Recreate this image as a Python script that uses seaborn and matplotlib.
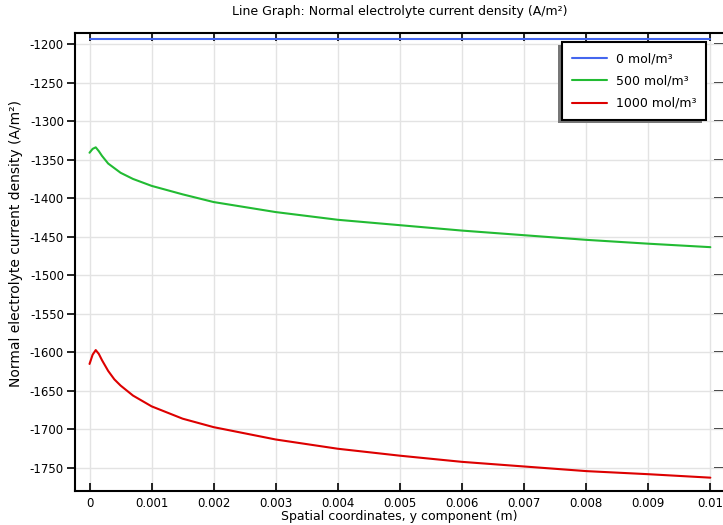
import matplotlib
matplotlib.use("Agg")
import matplotlib.pyplot as plt
import seaborn as sns
import pandas as pd
from matplotlib.patches import Rectangle

# ---- data ----
y_coord = [0, 0.00005, 0.0001, 0.00015, 0.0002, 0.0003, 0.0004, 0.0005, 0.0007,
           0.001, 0.0015, 0.002, 0.003, 0.004, 0.005, 0.006, 0.007, 0.008, 0.009, 0.01]
current_0 = [-1193] * 20
current_500 = [-1341, -1336, -1334, -1339, -1345, -1355, -1361, -1367, -1375,
               -1384, -1395, -1405, -1418, -1428, -1435, -1442, -1448, -1454, -1459, -1463.5]
current_1000 = [-1615, -1603, -1597, -1602, -1610, -1624, -1635, -1643, -1656,
                -1670, -1686, -1697, -1713, -1725, -1734, -1742, -1748, -1754, -1758, -1762.5]
labels = ["0 mol/m³", "500 mol/m³", "1000 mol/m³"]
colors = ["#4466ee", "#22bb33", "#dd0000"]
x_ticks = [0, 0.001, 0.002, 0.003, 0.004, 0.005, 0.006, 0.007, 0.008, 0.009, 0.01]
x_ticklabels = ["0", "0.001", "0.002", "0.003", "0.004", "0.005", "0.006", "0.007", "0.008", "0.009", "0.01"]
y_ticks = list(range(-1750, -1199, 50))

frames = []
for lab, vals in zip(labels, [current_0, current_500, current_1000]):
    frames.append(pd.DataFrame({"y": y_coord, "J": vals, "conc": lab}))
df = pd.concat(frames, ignore_index=True)

sns.set_style("white")
plt.rcParams["font.family"] = ["DejaVu Sans"]
plt.rcParams["axes.unicode_minus"] = False
plt.rcParams["text.color"] = "black"
plt.rcParams["axes.labelcolor"] = "black"
plt.rcParams["xtick.color"] = "black"
plt.rcParams["ytick.color"] = "black"

W, H = 723, 525
left_px, right_px, top_px, bot_px = 75, 724, 33, 491
fig = plt.figure(figsize=(W / 100, H / 100), dpi=100)
ax = fig.add_axes([left_px / W, 1 - bot_px / H, (right_px - left_px) / W, (bot_px - top_px) / H])

sns.lineplot(data=df, x="y", y="J", hue="conc", hue_order=labels,
             palette=colors, linewidth=1.5, ax=ax, sort=False)

ax.set_xlim(-0.000234, 0.01022)
ax.set_ylim(-1779.8, -1185.7)
ax.set_xticks(x_ticks)
ax.set_xticklabels(x_ticklabels)
ax.set_yticks(y_ticks)
ax.set_yticklabels([str(v) for v in y_ticks])
ax.grid(True, color="#e3e3e3", linewidth=1)
ax.set_axisbelow(True)

for s in ["left", "bottom", "top"]:
    ax.spines[s].set_visible(True)
    ax.spines[s].set_color("black")
    ax.spines[s].set_linewidth(1.5)
ax.spines["right"].set_visible(False)

ax.tick_params(axis="x", which="major", direction="in", length=5.5, width=1.2,
               top=True, bottom=True, labeltop=False, labelbottom=True,
               labelsize=8.5, pad=4, colors="black")
ax.tick_params(axis="y", which="major", direction="out", length=6, width=1.2,
               left=True, right=False, labelsize=8.5, pad=2, colors="black")

# right ticks (inward, spine just beyond the figure edge)
secy = ax.secondary_yaxis("right")
secy.set_yticks(y_ticks)
secy.tick_params(axis="y", which="major", direction="in", length=7, width=1.2,
                 right=True, left=False, labelright=False, labelleft=False, colors="black")
secy.spines["right"].set_visible(False)

ax.set_xlabel("Spatial coordinates, y component (m)", fontsize=9, labelpad=0, color="black")
ax.set_ylabel("Normal electrolyte current density (A/m²)", fontsize=10, color="black")
ax.yaxis.set_label_coords(-0.0794, 0.541)
ax.set_title("Line Graph: Normal electrolyte current density (A/m²)", fontsize=9, pad=13, color="black")

leg = ax.legend(loc="upper right", bbox_to_anchor=(0.9723, 0.98), borderaxespad=0,
                fancybox=False, frameon=True, fontsize=9, handlelength=2.8,
                borderpad=0.8, labelspacing=0.75, handletextpad=0.65)
leg.get_frame().set_edgecolor("black")
leg.get_frame().set_linewidth(1.5)
leg.get_frame().set_alpha(1)
for line in leg.get_lines():
    line.set_linewidth(1.5)
for t in leg.get_texts():
    t.set_color("black")

fig.canvas.draw()
bb = leg.get_window_extent()
shadow = Rectangle((bb.x0 - 4, bb.y0 - 3), bb.width, bb.height, transform=None,
                   facecolor="#777777", edgecolor="none", zorder=4.9, clip_on=False)
ax.add_artist(shadow)

fig.savefig("out.png", dpi=100)
